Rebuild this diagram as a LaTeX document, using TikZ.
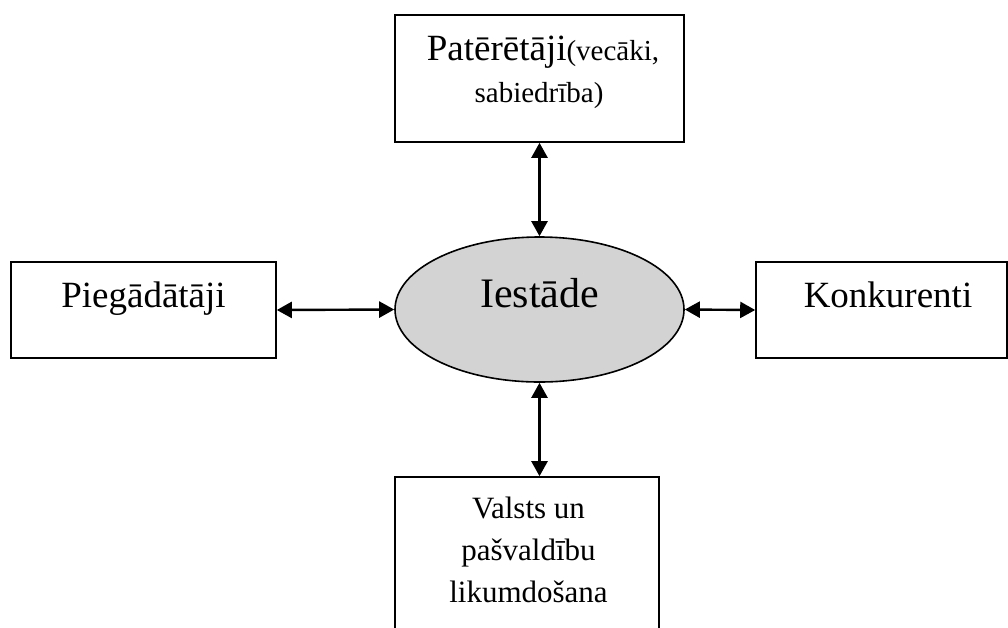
\documentclass[tikz,border=0pt]{standalone}
\usepackage{fontspec}
\setmainfont{Liberation Serif}
\usetikzlibrary{arrows.meta,shapes.geometric}

\tikzset{
  box/.style={draw=black, line width=1.6pt, rectangle, inner sep=0pt, fill=white},
  hub/.style={draw=black, line width=1.6pt, ellipse, inner sep=0pt, fill={rgb,255:red,211;green,211;blue,211}},
  label/.style={anchor=base, inner sep=0pt},
  link/.style={line width=2.4pt, {Triangle[length=15pt,width=16pt]}-{Triangle[length=15pt,width=16pt]}},
}

\begin{document}
\begin{tikzpicture}[x=1pt,y=-1pt]
  \useasboundingbox (0,0) rectangle (1008,627);
  \clip (0,0) rectangle (1008,627);

  % central institution
  \node[hub, minimum width=289pt, minimum height=145pt] (iest) at (539.5,309.5) {};
  \node[label] (iestt) at (539.5,307) {\fontsize{42}{48}\selectfont Iestāde};

  % surrounding boxes
  \node[box, minimum width=289pt, minimum height=127pt] (pat) at (539.5,78.5) {};
  \node[box, minimum width=265pt, minimum height=96pt] (pieg) at (143.5,310) {};
  \node[box, minimum width=251pt, minimum height=96pt] (konk) at (881.5,310) {};
  \node[box, minimum width=264pt, minimum height=170pt] (vals) at (527,562) {};

  % texts
  \node[label] (patt1) at (543,60) {\fontsize{37}{42}\selectfont Patērētāji\fontsize{29}{34}\selectfont(vecāki,};
  \node[label] (patt2) at (539,102) {\fontsize{29}{34}\selectfont sabiedrība)};
  \node[label] (piegt) at (143.5,307) {\fontsize{37}{42}\selectfont Piegādātāji};
  \node[label] (konkt) at (888,307) {\fontsize{37}{42}\selectfont Konkurenti};
  \node[label] (valst1) at (528.5,518) {\fontsize{31}{36}\selectfont Valsts un};
  \node[label] (valst2) at (528.5,560) {\fontsize{31}{36}\selectfont pašvaldību};
  \node[label] (valst3) at (528.5,602) {\fontsize{31}{36}\selectfont likumdošana};

  % two-way links
  \draw[link] (pat.south -| iest.north) -- (iest.north);
  \draw[link] (pieg.east) -- (iest.west);
  \draw[link] (iest.east) -- (konk.west);
  \draw[link] (iest.south) -- (iest.south |- vals.north);
\end{tikzpicture}
\end{document}
